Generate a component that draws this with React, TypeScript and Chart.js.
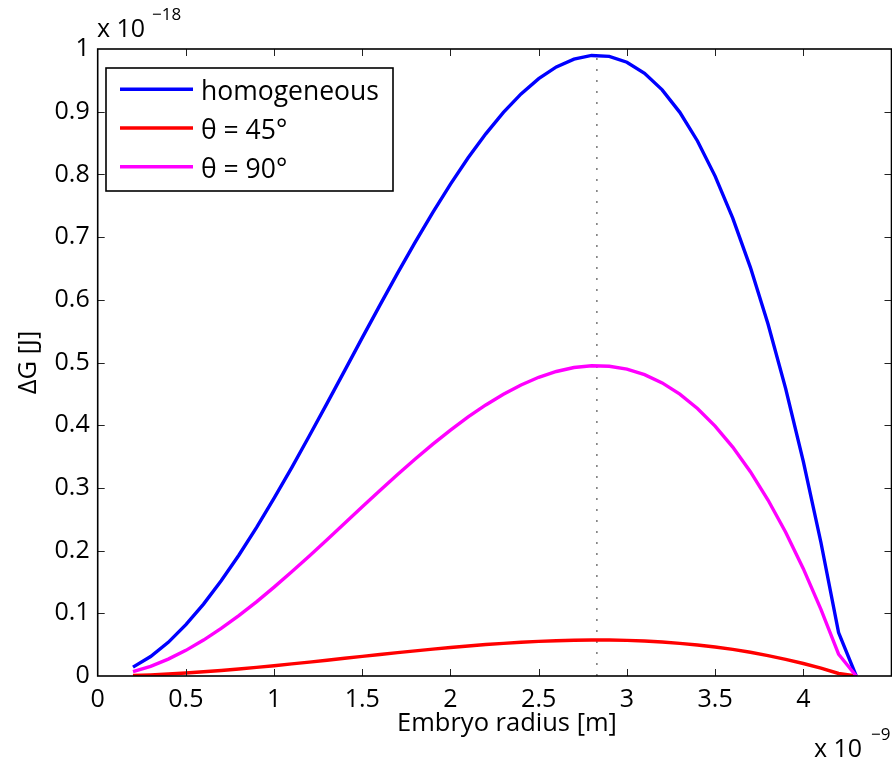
import React, { useEffect, useRef } from "react";
import { Chart, registerables } from "chart.js";

Chart.register(...registerables);

// Embryo radius (units of 1e-9 m)
const RADIUS = [
  0.2, 0.3, 0.4, 0.5, 0.6, 0.7, 0.8, 0.9, 1.0, 1.1, 1.2, 1.3, 1.4, 1.5,
  1.6, 1.7, 1.8, 1.9, 2.0, 2.1, 2.2, 2.3, 2.4, 2.5, 2.6, 2.7, 2.8, 2.9,
  3.0, 3.1, 3.2, 3.3, 3.4, 3.5, 3.6, 3.7, 3.8, 3.9, 4.0, 4.1, 4.2, 4.3,
];

// ΔG (units of 1e-18 J)
const HOMOGENEOUS = [
  0.0141, 0.031, 0.0537, 0.0818, 0.1146, 0.1518, 0.1926, 0.2367, 0.2835,
  0.3324, 0.3831, 0.4348, 0.4871, 0.5396, 0.5915, 0.6425, 0.692, 0.7395,
  0.7845, 0.8264, 0.8647, 0.8988, 0.9284, 0.9528, 0.9714, 0.9839, 0.9897,
  0.9882, 0.9789, 0.9612, 0.9348, 0.899, 0.8533, 0.7973, 0.7303, 0.6518,
  0.5613, 0.4584, 0.3424, 0.2129, 0.0693, 0,
];

const THETA_45 = [
  0.0008, 0.0018, 0.0031, 0.0047, 0.0067, 0.0088, 0.0112, 0.0137, 0.0164,
  0.0193, 0.0222, 0.0252, 0.0283, 0.0313, 0.0343, 0.0373, 0.0401, 0.0429,
  0.0455, 0.0479, 0.0502, 0.0521, 0.0539, 0.0553, 0.0563, 0.0571, 0.0574,
  0.0573, 0.0568, 0.0558, 0.0542, 0.0521, 0.0495, 0.0462, 0.0424, 0.0378,
  0.0326, 0.0266, 0.0199, 0.0124, 0.004, 0,
];

const THETA_90 = [
  0.0071, 0.0155, 0.0269, 0.0409, 0.0573, 0.0759, 0.0963, 0.1183, 0.1417,
  0.1662, 0.1915, 0.2174, 0.2436, 0.2698, 0.2958, 0.3213, 0.346, 0.3698,
  0.3922, 0.4132, 0.4323, 0.4494, 0.4642, 0.4764, 0.4857, 0.492, 0.4948,
  0.4941, 0.4894, 0.4806, 0.4674, 0.4495, 0.4267, 0.3986, 0.3651, 0.3259,
  0.2807, 0.2292, 0.1712, 0.1064, 0.0347, 0,
];

const PEAK_RADIUS = 2.83;
const PEAK_LINE_Y = [0, 1];

const SERIES_LABELS = ["homogeneous", "\u03b8 = 45\u00b0", "\u03b8 = 90\u00b0"];
const SERIES_COLORS = ["#0000ff", "#ff0000", "#ff00ff"];

const X_MIN = 0;
const X_MAX = 4.5;
const X_STEP = 0.5;
const Y_MIN = 0;
const Y_MAX = 1;
const Y_STEP = 0.1;

const X_TITLE = "Embryo radius [m]";
const Y_TITLE = "\u0394G [J]";
const X_EXP = "\u22129";
const Y_EXP = "\u221218";

const FONT = "'Open Sans', 'Noto Sans', sans-serif";
const LINE_W = 3.4;

function fmt(v: number) {
  return String(Math.round(v * 10) / 10);
}

const decorPlugin = {
  id: "decor",
  afterDatasetsDraw(chart: any) {
    const ctx = chart.ctx;
    const { left, right, top, bottom } = chart.chartArea;
    const xs = chart.scales.x;
    const ys = chart.scales.y;
    ctx.save();

    // ticks (inside, on all four sides)
    ctx.strokeStyle = "#222";
    ctx.lineWidth = 1;
    const TL = 7;
    xs.ticks.forEach((t: any) => {
      const p = Math.round(xs.getPixelForValue(t.value)) + 0.5;
      if (p <= left + 1 || p >= right - 1) return;
      ctx.beginPath();
      ctx.moveTo(p, bottom);
      ctx.lineTo(p, bottom - TL);
      ctx.moveTo(p, top);
      ctx.lineTo(p, top + TL);
      ctx.stroke();
    });
    ys.ticks.forEach((t: any) => {
      const p = Math.round(ys.getPixelForValue(t.value)) + 0.5;
      if (p <= top + 1 || p >= bottom - 1) return;
      ctx.beginPath();
      ctx.moveTo(left, p);
      ctx.lineTo(left + TL, p);
      ctx.moveTo(right, p);
      ctx.lineTo(right - TL, p);
      ctx.stroke();
    });

    // frame
    ctx.strokeStyle = "#000";
    ctx.lineWidth = 1.6;
    ctx.strokeRect(left, top, right - left, bottom - top);

    // legend
    const bx = 106, by = 68, bw = 287, bh = 123;
    ctx.fillStyle = "#fff";
    ctx.fillRect(bx, by, bw, bh);
    ctx.strokeStyle = "#000";
    ctx.lineWidth = 1.6;
    ctx.strokeRect(bx, by, bw, bh);
    const rows = [89.3, 128, 166.7];
    ctx.font = `26.5px ${FONT}`;
    ctx.textAlign = "left";
    ctx.textBaseline = "alphabetic";
    rows.forEach((ry, i) => {
      ctx.strokeStyle = SERIES_COLORS[i];
      ctx.lineWidth = LINE_W;
      ctx.beginPath();
      ctx.moveTo(120, ry);
      ctx.lineTo(193, ry);
      ctx.stroke();
      ctx.fillStyle = "#000";
      ctx.fillText(SERIES_LABELS[i], 201, ry + 11);
    });

    // exponent labels
    ctx.fillStyle = "#000";
    ctx.font = `25px ${FONT}`;
    ctx.fillText("x 10", 97, 37);
    ctx.font = `17px ${FONT}`;
    ctx.fillText(Y_EXP, 152, 20);
    ctx.font = `25px ${FONT}`;
    ctx.fillText("x 10", 814, 757);
    ctx.font = `17px ${FONT}`;
    ctx.fillText(X_EXP, 871, 740);

    // axis titles
    ctx.font = `25.5px ${FONT}`;
    ctx.textAlign = "center";
    ctx.fillText(X_TITLE, 507, 731);
    ctx.save();
    ctx.translate(36, (top + bottom) / 2);
    ctx.rotate(-Math.PI / 2);
    ctx.fillText(Y_TITLE, 0, 0);
    ctx.restore();

    ctx.restore();
  },
};

export default function App() {
  const ref = useRef<HTMLCanvasElement | null>(null);
  useEffect(() => {
    if (!ref.current) return;
    const mk = (ys: number[]) => RADIUS.map((x, i) => ({ x, y: ys[i] }));
    const chart = new Chart(ref.current, {
      type: "line",
      data: {
        datasets: [
          {
            label: SERIES_LABELS[2],
            data: mk(THETA_90),
            borderColor: SERIES_COLORS[2],
            borderWidth: LINE_W,
            pointRadius: 0,
            tension: 0,
          },
          {
            label: SERIES_LABELS[1],
            data: mk(THETA_45),
            borderColor: SERIES_COLORS[1],
            borderWidth: LINE_W,
            pointRadius: 0,
            tension: 0,
          },
          {
            label: SERIES_LABELS[0],
            data: mk(HOMOGENEOUS),
            borderColor: SERIES_COLORS[0],
            borderWidth: LINE_W,
            pointRadius: 0,
            tension: 0,
          },
          {
            label: "peak",
            data: PEAK_LINE_Y.map((y) => ({ x: PEAK_RADIUS, y })),
            borderColor: "#333",
            borderWidth: 1,
            borderDash: [2, 9],
            pointRadius: 0,
          },
        ],
      },
      options: {
        animation: false,
        responsive: false,
        devicePixelRatio: 1,
        layout: { padding: { top: 49, right: 0.5, left: 0, bottom: 0 } },
        plugins: {
          legend: { display: false },
          tooltip: { enabled: false },
        },
        scales: {
          x: {
            type: "linear",
            min: X_MIN,
            max: X_MAX,
            grid: { display: false, drawTicks: false },
            border: { display: false },
            ticks: {
              stepSize: X_STEP,
              color: "#000",
              font: { family: FONT, size: 25 },
              padding: 9,
              maxRotation: 0,
              autoSkip: false,
              callback: (v: any) => (Number(v) > 4.4 ? null : fmt(Number(v))),
            },
            afterFit: (s: any) => {
              s.height = 86;
              s.paddingLeft = 0;
              s.paddingRight = 0;
            },
          },
          y: {
            type: "linear",
            min: Y_MIN,
            max: Y_MAX,
            grid: { display: false, drawTicks: false },
            border: { display: false },
            ticks: {
              stepSize: Y_STEP,
              color: "#000",
              font: { family: FONT, size: 25 },
              padding: 8,
              autoSkip: false,
              callback: (v: any) => fmt(Number(v)),
            },
            afterFit: (s: any) => {
              s.width = 97.7;
              s.paddingTop = 0;
              s.paddingBottom = 0;
            },
          },
        },
      },
      plugins: [decorPlugin],
    } as any);
    return () => chart.destroy();
  }, []);
  return (
    <div style={{ position: "fixed", left: 0, top: 0, width: 892, height: 762, background: "#fff" }}>
      <canvas ref={ref} width={892} height={762} style={{ display: "block" }} />
    </div>
  );
}
